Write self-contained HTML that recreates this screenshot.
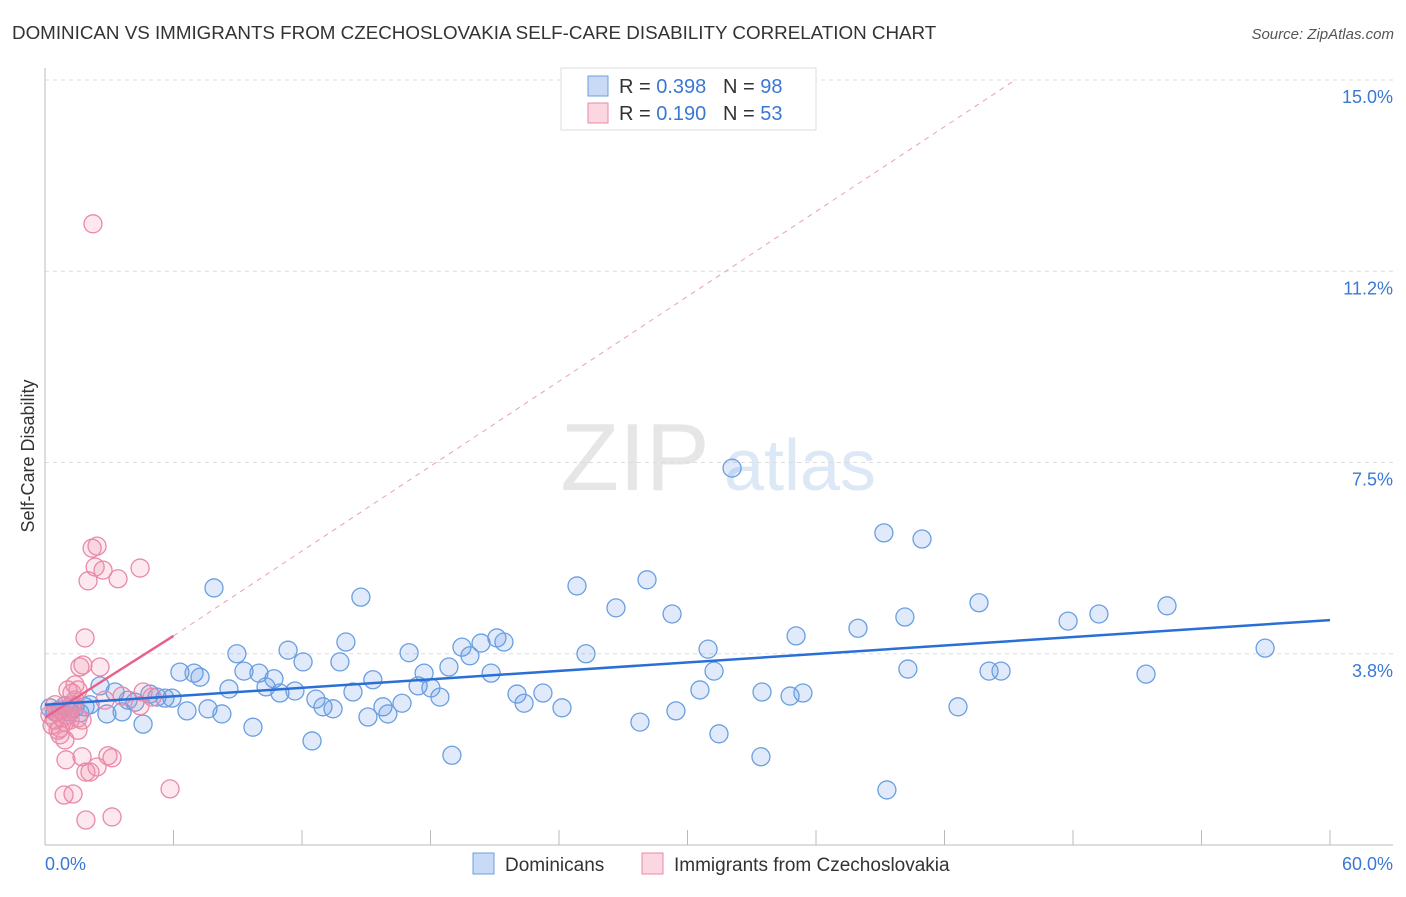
<!DOCTYPE html>
<html><head><meta charset="utf-8"><style>
body{margin:0;background:#fff;font-family:"Liberation Sans",sans-serif;}
svg text{font-family:"Liberation Sans",sans-serif;}
</style></head><body>
<svg width="1406" height="892" viewBox="0 0 1406 892">
<text x="12" y="39" font-size="18.8" fill="#333">DOMINICAN VS IMMIGRANTS FROM CZECHOSLOVAKIA SELF-CARE DISABILITY CORRELATION CHART</text>
<text x="1394" y="39" font-size="15" fill="#555" font-style="italic" text-anchor="end">Source: ZipAtlas.com</text>
<g>
<text x="635" y="490" font-size="96" fill="#e6e6e6" font-family="Liberation Serif" text-anchor="middle">ZIP</text>
<text x="800" y="490" font-size="72" fill="#dce8f6" text-anchor="middle">atlas</text>
</g>
<g id="grid"></g>
<g id="axes"></g>
<g id="marks"></g>
<text x="34" y="456" font-size="18" fill="#333" text-anchor="middle" transform="rotate(-90 34 456)">Self-Care Disability</text>
<text x="45" y="870" font-size="18" fill="#3a78d4">0.0%</text>
<text x="1393" y="870" font-size="18" fill="#3a78d4" text-anchor="end">60.0%</text>
<g>
<rect x="561" y="68" width="255" height="62" fill="#fff" stroke="#ddd"/>
<rect x="588" y="76" width="20" height="20" fill="rgba(100,150,230,0.35)" stroke="#6a9fe0"/>
<rect x="588" y="103" width="20" height="20" fill="rgba(240,140,170,0.35)" stroke="#e88aa8"/>
<text x="619" y="93" font-size="20" fill="#333">R = <tspan fill="#3a78d4">0.398</tspan>&#160;&#160;&#160;N = <tspan fill="#3a78d4">98</tspan></text>
<text x="619" y="120" font-size="20" fill="#333">R = <tspan fill="#3a78d4">0.190</tspan>&#160;&#160;&#160;N = <tspan fill="#3a78d4">53</tspan></text>
</g>
<g>
<rect x="473" y="853" width="21" height="21" fill="rgba(100,150,230,0.35)" stroke="#6a9fe0"/>
<text x="505" y="871" font-size="19" fill="#333">Dominicans</text>
<rect x="642" y="853" width="21" height="21" fill="rgba(240,140,170,0.35)" stroke="#e88aa8"/>
<text x="674" y="871" font-size="19" fill="#333">Immigrants from Czechoslovakia</text>
</g>
</svg>
<script>
const yTicks=[3.75,7.5,11.25,15];
const yTickLabels=["3.8%","7.5%","11.2%","15.0%"];
const xTicks=[0,6,12,18,24,30,36,42,48,54,60];
const blueX=[0.23,0.47,0.70,0.93,1.17,1.40,1.63,1.87,2.10,2.57,2.89,3.27,3.60,3.88,4.20,4.58,4.90,5.23,5.60,5.93,6.30,6.63,6.96,7.24,7.61,7.89,8.26,8.59,8.96,9.29,9.71,9.99,10.32,10.69,10.97,11.35,11.67,12.05,12.47,12.65,12.98,13.45,13.77,14.05,14.38,14.75,15.08,15.31,15.78,16.01,16.67,17.00,17.42,17.70,18.02,18.44,18.86,19.00,19.47,19.84,20.36,20.83,21.10,21.43,22.04,22.37,23.25,24.14,24.84,25.26,26.66,27.78,28.11,29.28,29.46,30.58,30.96,31.24,31.47,32.08,33.43,33.48,34.79,35.07,35.39,37.96,39.17,39.31,40.15,40.29,40.95,42.63,43.61,44.08,44.64,47.77,49.21,51.41,52.39,56.97];
const blueY=[2.69,2.61,2.65,2.73,2.61,2.69,2.59,2.71,2.75,3.12,2.57,3.00,2.61,2.84,2.80,2.37,2.96,2.90,2.88,2.88,3.39,2.63,3.37,3.29,2.67,5.04,2.57,3.06,3.75,3.41,2.31,3.37,3.10,3.26,2.98,3.82,3.02,3.59,2.04,2.86,2.71,2.67,3.59,3.98,3.00,4.86,2.51,3.24,2.71,2.57,2.78,3.77,3.12,3.37,3.08,2.90,3.49,1.76,3.88,3.71,3.96,3.37,4.06,3.98,2.96,2.78,2.98,2.69,5.08,3.75,4.65,2.41,5.20,4.53,2.63,3.04,3.84,3.41,2.18,7.39,1.73,3.00,2.92,4.10,2.98,4.25,6.12,1.08,4.47,3.45,6.00,2.71,4.75,3.41,3.41,4.39,4.53,3.35,4.69,3.86];
const pinkX=[0.23,0.33,0.47,0.56,0.70,0.79,0.93,1.03,1.17,1.26,1.40,1.54,1.63,1.77,1.87,2.01,2.20,2.34,2.43,2.57,2.71,2.80,2.94,3.13,3.41,3.60,4.44,4.58,5.00,4.44,2.24,0.98,1.07,1.26,1.40,1.54,1.73,1.91,2.10,2.43,0.89,1.31,1.91,3.13,5.84,0.70,0.93,1.17,0.47,0.61,1.54,1.73,0.79];
const pinkY=[2.55,2.35,2.45,2.61,2.29,2.49,2.41,2.55,2.65,2.75,2.84,3.04,3.49,3.53,4.06,5.18,5.82,5.45,5.86,3.49,5.39,2.84,1.75,1.71,5.22,2.92,5.43,3.00,2.90,2.73,12.18,1.67,3.04,2.98,3.14,2.25,1.73,1.43,1.43,1.53,0.98,1.00,0.49,0.55,1.10,2.16,2.06,2.45,2.75,2.25,2.49,2.45,2.65];
const blueTrend=[[0,2.75],[60,4.41]];
const pinkTrend=[[0,2.5],[6,4.1]];
const pinkDash=[[6,4.1],[45.3,15]];
const X=v=>45+v*(1285/60), Y=v=>845-v*(765/15);
const NS="http://www.w3.org/2000/svg";
function mk(t,a,p){const e=document.createElementNS(NS,t);for(const k in a)e.setAttribute(k,a[k]);p.appendChild(e);return e;}
const grid=document.getElementById('grid'),axes=document.getElementById('axes'),marks=document.getElementById('marks');
yTicks.forEach((v,i)=>{
 const l=mk('line',{x1:45,x2:1393,y1:Y(v),y2:Y(v),stroke:'#ddd','stroke-dasharray':'4,4'},grid);
 
 
 const t=mk('text',{x:1393,y:Y(v)+23,'font-size':18,fill:'#3a78d4','text-anchor':'end'},axes);
 t.textContent=yTickLabels[i];
 
 
});
mk('line',{x1:45,x2:45,y1:68,y2:845,stroke:'#bbb'},axes);
mk('line',{x1:45,x2:1393,y1:845,y2:845,stroke:'#bbb'},axes);
xTicks.forEach(v=>{
 const l=mk('line',{x1:X(v),x2:X(v),y1:830,y2:845,stroke:'#bbb'},axes);
 
 
});
blueX.forEach((x,i)=>{
 const c=mk('circle',{cx:X(x),cy:Y(blueY[i]),r:9,fill:'rgba(100,150,230,0.2)',stroke:'#6a9fe0','stroke-width':1.3},marks);
 
 
});
pinkX.forEach((x,i)=>{
 const c=mk('circle',{cx:X(x),cy:Y(pinkY[i]),r:9,fill:'rgba(240,140,170,0.2)',stroke:'#e88aa8','stroke-width':1.3},marks);
 
 
});
let l=mk('line',{x1:X(pinkDash[0][0]),y1:Y(pinkDash[0][1]),x2:X(pinkDash[1][0]),y2:Y(pinkDash[1][1]),stroke:'#e8a0b8','stroke-dasharray':'5,5','stroke-width':1},marks);


l=mk('line',{x1:X(pinkTrend[0][0]),y1:Y(pinkTrend[0][1]),x2:X(pinkTrend[1][0]),y2:Y(pinkTrend[1][1]),stroke:'#e8608c','stroke-width':2.5},marks);


l=mk('line',{x1:X(blueTrend[0][0]),y1:Y(blueTrend[0][1]),x2:X(blueTrend[1][0]),y2:Y(blueTrend[1][1]),stroke:'#2a6fd6','stroke-width':2.5},marks);


</script>
</body></html>
